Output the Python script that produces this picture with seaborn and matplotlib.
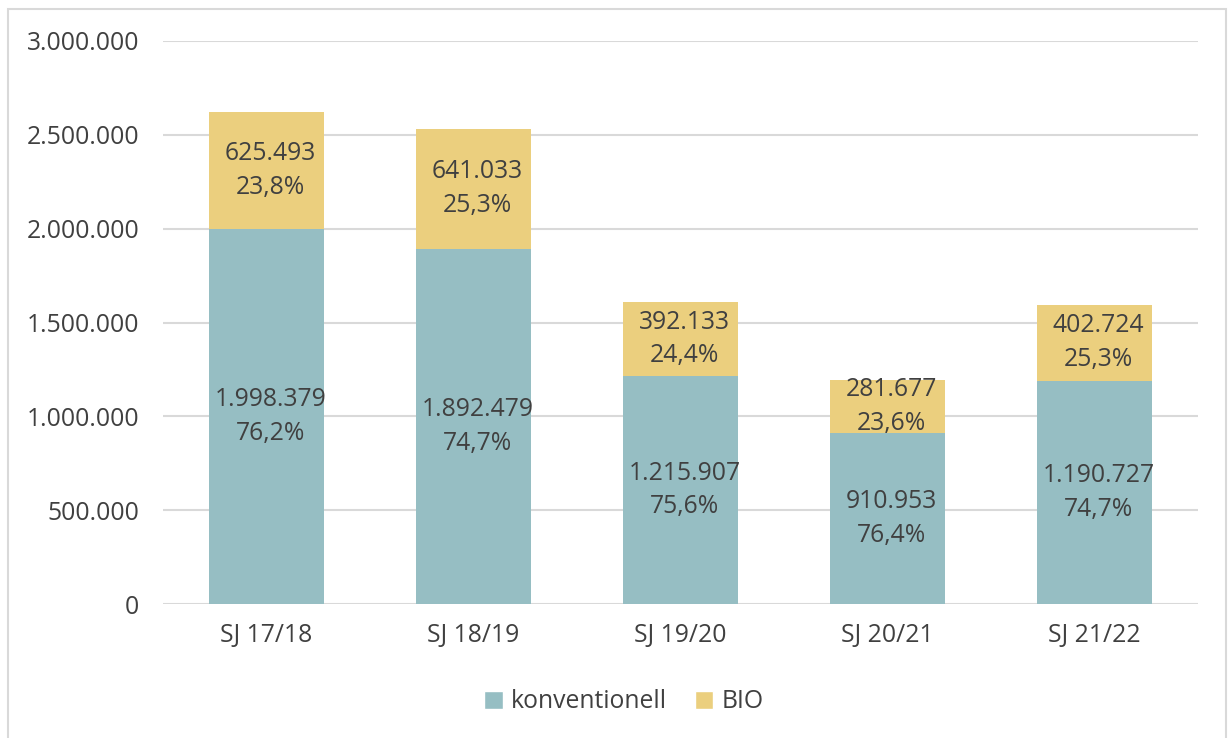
import matplotlib
matplotlib.use("Agg")
import matplotlib.pyplot as plt
import seaborn as sns
import pandas as pd
from matplotlib.patches import Rectangle, Patch

categories = ["SJ 17/18", "SJ 18/19", "SJ 19/20", "SJ 20/21", "SJ 21/22"]
konventionell = [1998379, 1892479, 1215907, 910953, 1190727]
bio = [625493, 641033, 392133, 281677, 402724]
y_ticks = [0, 500000, 1000000, 1500000, 2000000, 2500000, 3000000]

C_KONV = "#96BEC3"
C_BIO = "#EBCF7E"
TXT = "#404040"
GRID = "#D9D9D9"
FS = 17.8

sns.set_theme(style="white")
plt.rcParams["font.family"] = ["Open Sans", "DejaVu Sans"]

def de(n):
    return f"{n:,.0f}".replace(",", ".")

def pct(p):
    return f"{p*100:.1f}".replace(".", ",") + "%"

df = pd.DataFrame({"cat": categories, "konv": konventionell, "bio": bio})
df["total"] = df["konv"] + df["bio"]

fig = plt.figure(figsize=(12.29, 7.38), dpi=100)
ax = fig.add_axes([163/1229, 1-604/738, (1198-163)/1229, (604-41)/738])

sns.barplot(data=df, x="cat", y="total", color=C_BIO, width=0.556, ax=ax,
            saturation=1, linewidth=0, zorder=2)
sns.barplot(data=df, x="cat", y="konv", color=C_KONV, width=0.556, ax=ax,
            saturation=1, linewidth=0, zorder=3)

for i, (k, b) in enumerate(zip(konventionell, bio)):
    t = k + b
    ax.text(i + 0.02, k/2, f"{de(k)}\n{pct(k/t)}", ha="center", va="center",
            fontsize=FS, color=TXT, linespacing=1.45, zorder=5)
    ax.text(i + 0.02, k + b/2, f"{de(b)}\n{pct(b/t)}", ha="center", va="center",
            fontsize=FS, color=TXT, linespacing=1.45, zorder=5)

ax.set_ylim(0, 3000000)
ax.set_xlim(-0.5, len(categories) - 0.5)
ax.set_yticks(y_ticks)
ax.set_yticklabels([de(v) for v in y_ticks])
ax.yaxis.grid(True, color=GRID, linewidth=1.5, zorder=0)
ax.set_axisbelow(True)
for s in ax.spines.values():
    s.set_visible(False)
ax.tick_params(axis="both", length=0, labelsize=FS, labelcolor=TXT)
ax.tick_params(axis="y", pad=17)
ax.tick_params(axis="x", pad=14)
ax.set_xlabel("")
ax.set_ylabel("")

handles = [Patch(facecolor=C_KONV, label="konventionell"),
           Patch(facecolor=C_BIO, label="BIO")]
fig.legend(handles=handles, loc="center", bbox_to_anchor=(624/1229, 1-702/738),
           ncol=2, frameon=False, fontsize=FS, labelcolor=TXT,
           handlelength=0.75, handleheight=0.75, handletextpad=0.35,
           columnspacing=1.1)

fig.patches.append(Rectangle((8/1229, -0.01), (1226-8)/1229, 1-9/738 + 0.01,
                             transform=fig.transFigure, fill=False,
                             edgecolor=GRID, linewidth=1.5))

fig.savefig("out.png", dpi=100, facecolor="white")
